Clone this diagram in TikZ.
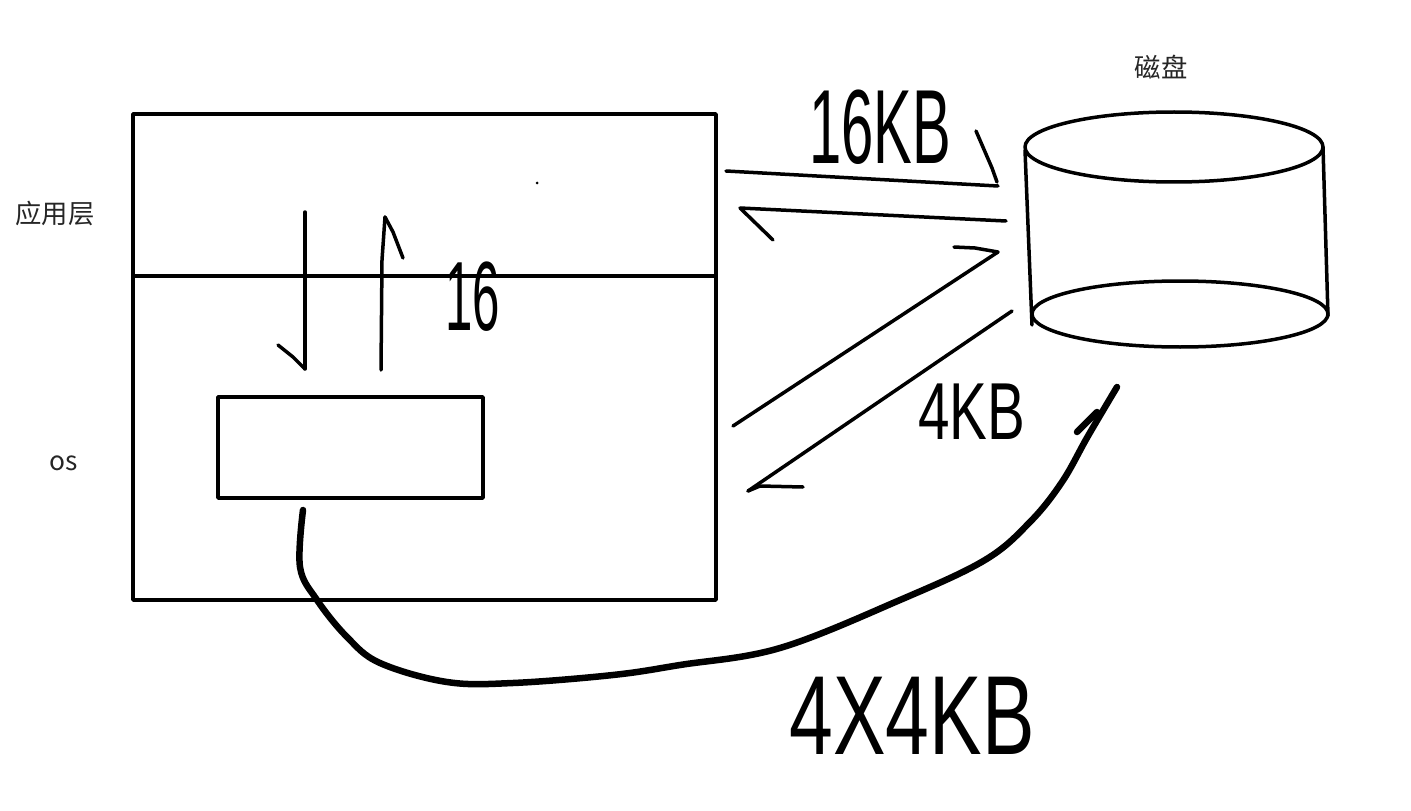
\documentclass[tikz,border=0pt]{standalone}
\usepackage{fontspec}
\usepackage{graphicx}
\setmainfont{Liberation Sans}
\newfontfamily\cjk{Noto Sans CJK SC}
\tikzset{
  pen/.style={line width=0.07cm, line cap=round, line join=round},
  thick pen/.style={line width=0.13cm, line cap=round, line join=round},
  lbl/.style={inner sep=0pt, text=black!85, font=\cjk\fontsize{15}{15}\selectfont},
  hw/.style={inner sep=0pt}
}
\begin{document}
\begin{tikzpicture}[x=0.02cm,y=-0.02cm]
\useasboundingbox (0,0) rectangle (1411,811);
% boxes
\draw[pen] (133,114) rectangle (716,600);
\draw[pen] (133,276) -- (716,276);
\draw[pen] (218,397) rectangle (483,498);
\coordinate (bufout) at (303,510);
\fill (537,183) circle (1.5);
% labels
\node[lbl] (app) at (55,213) {应用层};
\node[lbl] (os) at (64,463) {os};
\node[lbl] (disklbl) at (1161,67) {磁盘};
% cylinder
\draw[pen] (1174,147) ellipse [x radius=149, y radius=35];
\draw[pen] (1180,314) ellipse [x radius=148, y radius=33];
\draw[pen] (1025,150) -- (1032,325);
\draw[pen] (1323,147) -- (1328,316);
% vertical arrows
\coordinate (d1) at (305,212); \coordinate (d2) at (305,369);
\draw[pen] (d1) -- (d2);
\draw[pen] (278,345) -- (293,357) -- (d2);
\coordinate (u1) at (381,370); \coordinate (u2) at (385,217);
\draw[pen] (u1) -- (382,260) -- (u2);
\draw[pen] (u2) -- (393,232) -- (403,258);
% arrows to/from disk
\coordinate (a1s) at (726,171); \coordinate (a1e) at (998,186);
\draw[pen] (a1s) -- (a1e);
\draw[pen] (976,131) -- (992,168) -- (997,182);
\coordinate (a2s) at (1006,221); \coordinate (a2e) at (740,208);
\draw[pen] (a2s) -- (a2e);
\draw[pen] (a2e) -- (773,240);
\coordinate (a3s) at (733,426); \coordinate (a3e) at (998,252);
\draw[pen] (a3s) -- (a3e);
\draw[pen] (954,247) -- (975,248) -- (a3e);
\coordinate (a4s) at (1012,311); \coordinate (a4e) at (748,491);
\draw[pen] (a4s) -- (a4e);
\draw[pen] (a4e) -- (760,486) -- (803,487);
% big curve
\coordinate (ctip) at (1117,387);
\draw[thick pen] plot[smooth, tension=0.6] coordinates {(bufout) (300,567) (317,600) (347,637) (380,663) (447,682) (513,683) (613,675) (680,665) (780,648) (900,600) (985,560) (1030,522) (1062,482) (1088,436) (ctip)};
\draw[thick pen] (1077,432) -- (1097,412);
% handwritten labels
\node[hw] (t16kb) at (880,127) {\scalebox{0.55}[1]{\fontsize{60}{60}\selectfont 16KB}};
\node[hw] (t16) at (473,297) {\scalebox{0.5}[1]{\fontsize{56}{56}\selectfont 16}};
\node[hw] (t4kb) at (972,412) {\scalebox{0.7}[1]{\fontsize{46}{46}\selectfont 4KB}};
\node[hw] (t4x4) at (912,716) {\scalebox{0.7}[1]{\fontsize{64}{64}\selectfont 4X4KB}};
\end{tikzpicture}
\end{document}
